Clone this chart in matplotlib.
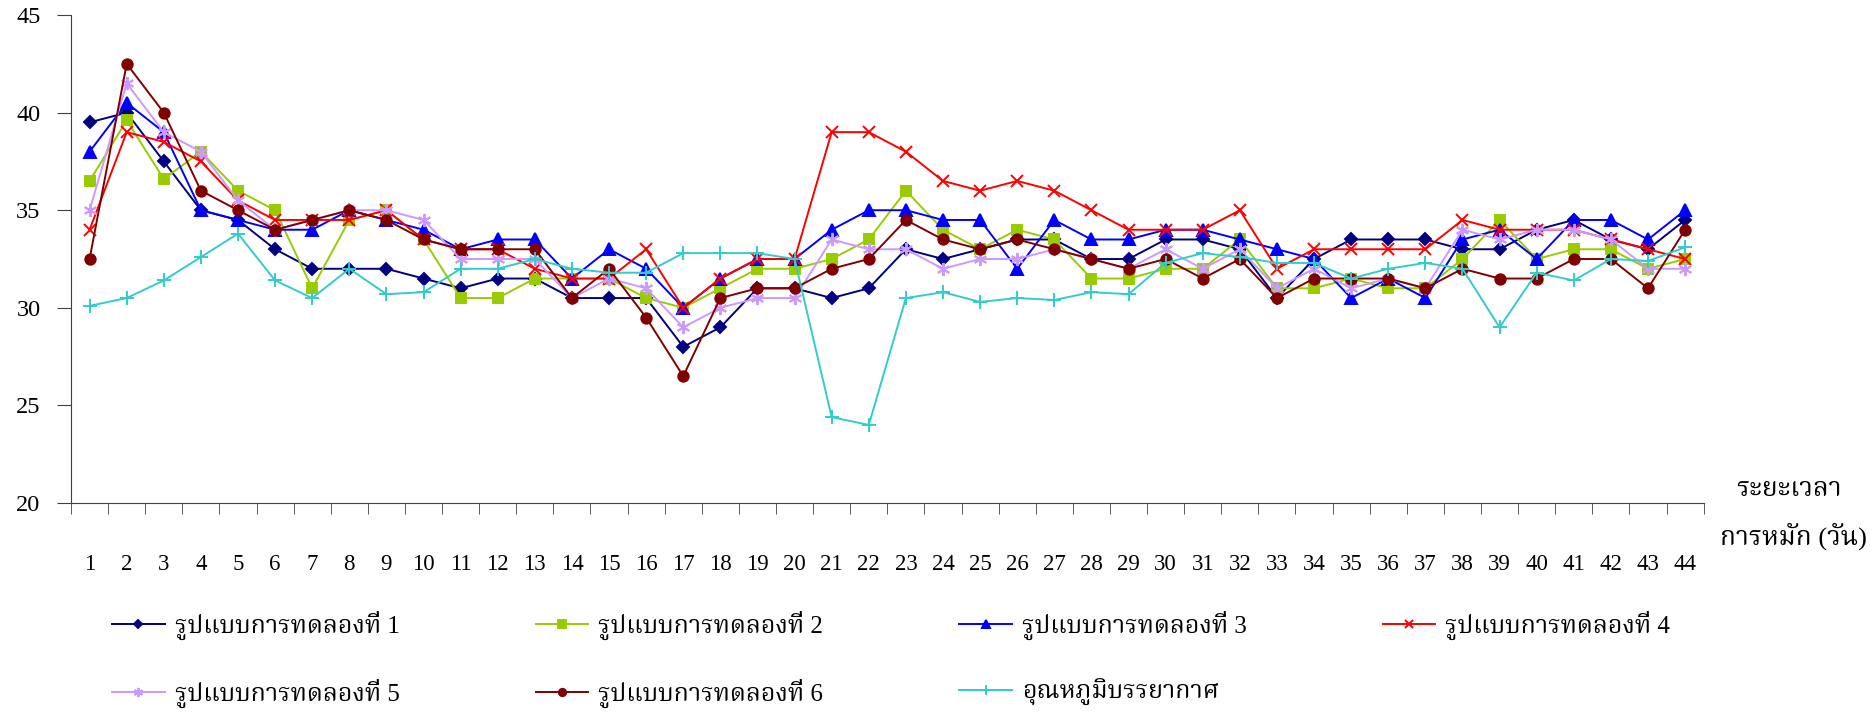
import numpy as np
import matplotlib
matplotlib.use('Agg')
import matplotlib.pyplot as plt
from matplotlib import font_manager, ft2font


def find_thai_font():
    """หา font ที่มีอักษรไทยในเครื่อง"""
    preferred = ['Norasi', 'Kinnari', 'Noto Serif Thai', 'Laksaman',
                 'Garuda', 'Loma', 'Noto Sans Thai', 'Tlwg Typo']
    found = []
    for f in font_manager.fontManager.ttflist:
        try:
            cmap = ft2font.FT2Font(f.fname).get_charmap()
        except Exception:
            continue
        if 0x0E01 in cmap and 0x0E39 in cmap:
            found.append(f.name)
    for name in preferred:
        if name in found:
            return name
    return found[0] if found else 'DejaVu Sans'


# ---- data ----
days = list(range(1, 45))

trial_1 = [39.5, 40, 37.5, 35, 34.5, 33, 32, 32, 32, 31.5, 31, 31.5, 31.5, 30.5,
           30.5, 30.5, 28, 29, 31, 31, 30.5, 31, 33, 32.5, 33, 33.5, 33.5, 32.5,
           32.5, 33.5, 33.5, 33, 30.5, 32.5, 33.5, 33.5, 33.5, 33, 33, 34, 34.5,
           33.5, 33, 34.5]
trial_2 = [36.5, 39.6, 36.6, 38, 36, 35, 31, 34.5, 35, 33.5, 30.5, 30.5, 31.5,
           31.5, 31.5, 30.5, 30, 31, 32, 32, 32.5, 33.5, 36, 34, 33, 34, 33.5,
           31.5, 31.5, 32, 32, 33.5, 31, 31, 31.5, 31, 31, 32.5, 34.5, 32.5, 33,
           33, 32, 32.5]
trial_3 = [38, 40.5, 39, 35, 34.5, 34, 34, 35, 34.5, 34, 33, 33.5, 33.5, 31.5,
           33, 32, 30, 31.5, 32.5, 32.5, 34, 35, 35, 34.5, 34.5, 32, 34.5, 33.5,
           33.5, 34, 34, 33.5, 33, 32.5, 30.5, 31.5, 30.5, 33.5, 34, 32.5, 34.5,
           34.5, 33.5, 35]
trial_4 = [34, 39, 38.5, 37.5, 35.5, 34.5, 34.5, 34.5, 35, 33.5, 33, 33, 32,
           31.5, 31.5, 33, 30, 31.5, 32.5, 32.5, 39, 39, 38, 36.5, 36, 36.5, 36,
           35, 34, 34, 34, 35, 32, 33, 33, 33, 33, 34.5, 34, 34, 34, 33.5, 33,
           32.5]
trial_5 = [35, 41.5, 39, 38, 35.5, 34, 34.5, 35, 35, 34.5, 32.5, 32.5, 32.5,
           30.5, 31.5, 31, 29, 30, 30.5, 30.5, 33.5, 33, 33, 32, 32.5, 32.5, 33,
           32.5, 32, 33, 32, 33, 31, 32, 31, 31.5, 31, 34, 33.5, 34, 34, 33.5,
           32, 32]
trial_6 = [32.5, 42.5, 40, 36, 35, 34, 34.5, 35, 34.5, 33.5, 33, 33, 33, 30.5,
           32, 29.5, 26.5, 30.5, 31, 31, 32, 32.5, 34.5, 33.5, 33, 33.5, 33,
           32.5, 32, 32.5, 31.5, 32.5, 30.5, 31.5, 31.5, 31.5, 31, 32, 31.5,
           31.5, 32.5, 32.5, 31, 34]
air_temp = [30.1, 30.5, 31.4, 32.6, 33.8, 31.4, 30.5, 32, 30.7, 30.8, 32, 32,
            32.5, 32, 31.8, 31.8, 32.8, 32.8, 32.8, 32.5, 24.4, 24, 30.5, 30.8,
            30.3, 30.5, 30.4, 30.8, 30.7, 32.3, 32.8, 32.6, 32.3, 32.3, 31.5, 32,
            32.3, 32, 29, 31.8, 31.4, 32.5, 32.4, 33.1]

labels = ['รูปแบบการทดลองที่ 1', 'รูปแบบการทดลองที่ 2', 'รูปแบบการทดลองที่ 3',
          'รูปแบบการทดลองที่ 4', 'รูปแบบการทดลองที่ 5', 'รูปแบบการทดลองที่ 6',
          'อุณหภูมิบรรยากาศ']
y_ticks = [20, 25, 30, 35, 40, 45]

series = [trial_1, trial_2, trial_3, trial_4, trial_5, trial_6, air_temp]
colors = ['#000080', '#99CC00', '#0000FF', '#FF0000', '#CC99FF', '#800000',
          '#33CCCC']
markers = ['D', 's', '^', 'x', (6, 2, 0), 'o', '+']
msizes = [6.5, 7.5, 9, 8.5, 9.5, 7.5, 9.5]

THAI = find_thai_font()
thai_family = ['Liberation Serif', THAI]
plt.rcParams['font.family'] = thai_family

fig = plt.figure(figsize=(18.74, 7.16), dpi=100)
ax = fig.add_axes([0.0379, 0.2975, 0.8712, 0.6815])

handles = []
for vals, lab, c, m, ms in zip(series, labels, colors, markers, msizes):
    h, = ax.plot(days, vals, color=c, marker=m, markersize=ms, linewidth=1.4,
                 markeredgewidth=1.4, label=lab)
    handles.append(h)

ax.set_xlim(0.5, 44.5)
ax.set_ylim(20, 45)
ax.set_xticks(days)
ax.set_xticklabels([str(d) for d in days], fontsize=16.5)
ax.set_xticks(np.arange(0.5, 45, 1), minor=True)
ax.tick_params(axis='x', which='major', length=0, pad=37)
ax.tick_params(axis='x', which='minor', length=8, direction='out',
               color='#404040')
ax.set_yticks(y_ticks)
ax.set_yticklabels([str(v) for v in y_ticks], fontsize=17.5)
ax.tick_params(axis='y', length=10, direction='out', pad=12, color='#404040')

for side in ['top', 'right']:
    ax.spines[side].set_visible(False)
for side in ['left', 'bottom']:
    ax.spines[side].set_color('#404040')

fig.text(1789 / 1874, 1 - 490 / 716, 'ระยะเวลา', ha='center', va='center',
         fontsize=19)
fig.text(1793 / 1874, 1 - 536 / 716, 'การหมัก (วัน)', ha='center',
         va='center', fontsize=19)

# legend: เรียงแบบแถว (4 คอลัมน์)
order = [0, 4, 1, 5, 2, 6, 3]
fig.legend([handles[i] for i in order], [labels[i] for i in order],
           loc='upper left', bbox_to_anchor=(0.0598, 1 - 611 / 716), ncol=4,
           frameon=False, fontsize=18, handlelength=2.1, handletextpad=0.4,
           columnspacing=5.45, labelspacing=1.55, borderpad=0,
           borderaxespad=0, markerscale=0.7)

fig.savefig('out.png', dpi=100)
